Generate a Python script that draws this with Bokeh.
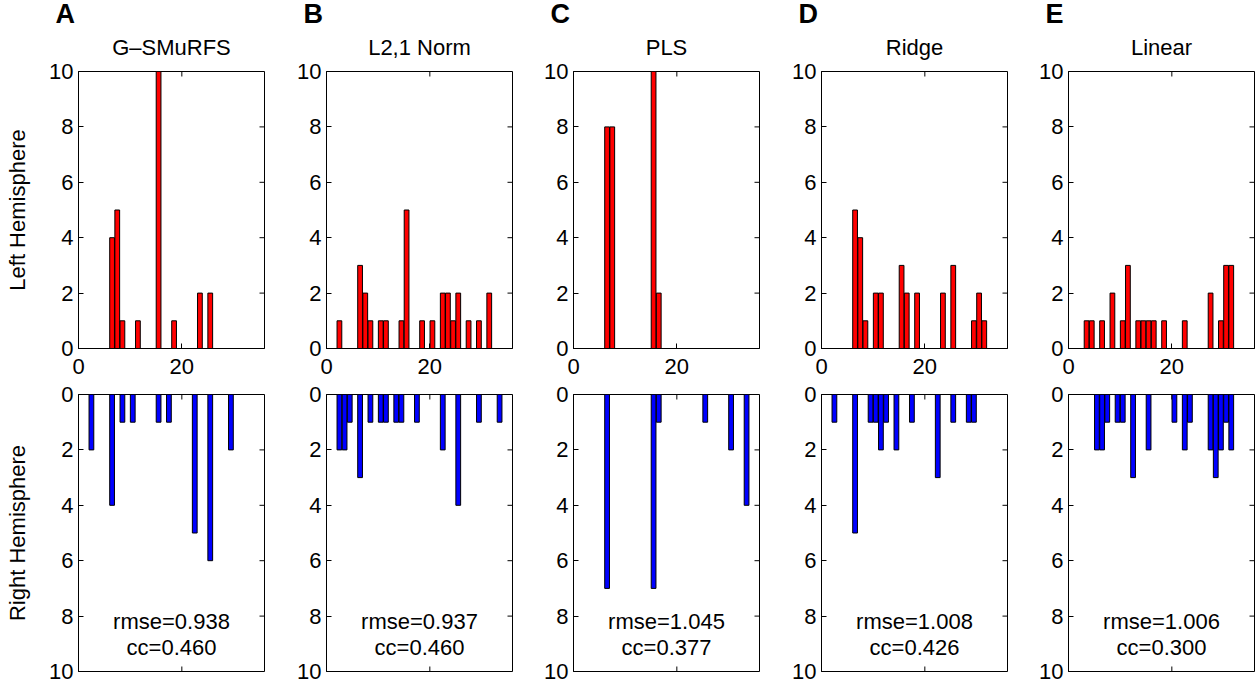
from bokeh.plotting import figure
from bokeh.models import Range1d, FixedTicker, Title
from bokeh.layouts import column, row
from bokeh.core.properties import value
from bokeh.embed import file_html
from bokeh.resources import INLINE

methods = ["G\u2013SMuRFS", "L2,1 Norm", "PLS", "Ridge", "Linear"]
letters = ["A", "B", "C", "D", "E"]
rmse = ["0.938", "0.937", "1.045", "1.008", "1.006"]
cc = ["0.460", "0.460", "0.377", "0.426", "0.300"]

# region index (1-based) and counts, left hemisphere
left_idx_A = [7, 8, 9, 12, 16, 19, 24, 26]
left_cnt_A = [4, 5, 1, 1, 10, 1, 2, 2]
left_idx_B = [3, 7, 8, 9, 11, 12, 15, 16, 19, 21, 23, 24, 25, 26, 28, 30, 32]
left_cnt_B = [1, 3, 2, 1, 1, 1, 1, 5, 1, 1, 2, 2, 1, 2, 1, 1, 2]
left_idx_C = [7, 8, 16, 17]
left_cnt_C = [8, 8, 10, 2]
left_idx_D = [7, 8, 9, 11, 12, 16, 17, 19, 24, 26, 30, 31, 32]
left_cnt_D = [5, 4, 1, 2, 2, 3, 2, 2, 2, 3, 1, 2, 1]
left_idx_E = [4, 5, 7, 9, 11, 12, 14, 15, 16, 17, 19, 23, 28, 30, 31, 32]
left_cnt_E = [1, 1, 1, 2, 1, 3, 1, 1, 1, 1, 1, 1, 2, 1, 3, 3]

# right hemisphere
right_idx_A = [3, 7, 9, 11, 16, 18, 23, 26, 30]
right_cnt_A = [2, 4, 1, 1, 1, 1, 5, 6, 2]
right_idx_B = [3, 4, 5, 7, 9, 11, 12, 14, 15, 18, 23, 26, 30, 34]
right_cnt_B = [2, 2, 1, 3, 1, 1, 1, 1, 1, 1, 2, 4, 1, 1]
right_idx_C = [7, 16, 17, 26, 31, 34]
right_cnt_C = [7, 7, 1, 1, 2, 4]
right_idx_D = [3, 7, 10, 11, 12, 13, 15, 18, 23, 26, 29, 30]
right_cnt_D = [1, 5, 1, 1, 2, 1, 2, 1, 3, 1, 1, 1]
right_idx_E = [6, 7, 8, 10, 11, 13, 16, 21, 23, 24, 28, 29, 30, 31, 32]
right_cnt_E = [2, 2, 1, 1, 1, 3, 2, 1, 2, 1, 2, 3, 2, 1, 2]

x_ticks = [0, 20]
y_ticks = [0, 2, 4, 6, 8, 10]
x_max = 36
y_max = 10

left_data = [(left_idx_A, left_cnt_A), (left_idx_B, left_cnt_B), (left_idx_C, left_cnt_C),
             (left_idx_D, left_cnt_D), (left_idx_E, left_cnt_E)]
right_data = [(right_idx_A, right_cnt_A), (right_idx_B, right_cnt_B), (right_idx_C, right_cnt_C),
              (right_idx_D, right_cnt_D), (right_idx_E, right_cnt_E)]

FONT = "Liberation Sans"
FS = "22px"
borders_left = [78, 60, 59, 60, 59]
TICK = 5
FRAME_W = 186
FRAME_H = 277


def style_axis(ax, standoff=5):
    ax.major_tick_in = TICK
    ax.major_tick_out = 0
    ax.minor_tick_in = 0
    ax.minor_tick_out = 0
    ax.axis_line_color = "black"
    ax.major_tick_line_color = "black"
    ax.major_label_text_font = FONT
    ax.major_label_text_color = "black"
    ax.major_label_text_font_size = FS
    ax.major_label_standoff = standoff


def ray_ticks(p, xs, ys, angle):
    p.ray(x=xs, y=ys, length=TICK, length_units="screen", angle=angle, angle_units="deg",
          line_color="black", line_width=1)


def make_fig(i, top):
    yr = Range1d(0, y_max) if top else Range1d(y_max, 0)
    p = figure(frame_width=FRAME_W, frame_height=FRAME_H, x_range=Range1d(0, x_max), y_range=yr,
               output_backend="svg", toolbar_location=None,
               min_border_left=borders_left[i], min_border_right=2,
               min_border_top=71 if top else 12, min_border_bottom=34 if top else 13,
               background_fill_color="white", border_fill_color="white")
    p.grid.visible = False
    p.outline_line_color = "black"
    p.outline_line_alpha = 1.0
    yax = p.yaxis[0]
    yax.ticker = FixedTicker(ticks=y_ticks)
    style_axis(yax)
    n_x = len(x_ticks)
    n_y = len(y_ticks)
    # right-edge inward ticks
    ray_ticks(p, [x_max] * n_y, y_ticks, 180)
    if top:
        xax = p.xaxis[0]
        xax.ticker = FixedTicker(ticks=x_ticks)
        style_axis(xax, standoff=10)
        ray_ticks(p, x_ticks, [y_max] * n_x, -90)
    else:
        p.xaxis.visible = False
        ray_ticks(p, x_ticks, [0] * n_x, -90)
        ray_ticks(p, x_ticks, [y_max] * n_x, 90)

    if i == 0:
        yax.axis_label = "Left Hemisphere" if top else "Right Hemisphere"
        yax.axis_label_text_font = FONT
        yax.axis_label_text_font_size = FS
        yax.axis_label_text_font_style = "normal"
        yax.axis_label_text_color = "black"
        yax.axis_label_standoff = 16

    idx, cnt = left_data[i] if top else right_data[i]
    xs = [k - 0.5 for k in idx]
    p.vbar(x=xs, top=cnt, bottom=0, width=0.92,
           fill_color="#ff0000" if top else "#0000ff", line_color="black", line_width=1)

    if top:
        # outermost: panel letter
        p.title.text = letters[i]
        p.title.align = "left"
        p.title.offset = -23
        p.title.text_font = FONT
        p.title.text_font_size = "27px"
        p.title.text_font_style = "bold"
        p.title.text_color = "black"
        p.title.standoff = -15
        # nearest the frame: method name
        p.add_layout(Title(text=methods[i], align="center", text_font=FONT, text_font_size=FS,
                           text_font_style="normal", text_color="black", standoff=23), "above")
    else:
        p.text(x=[18], y=[8.2], text=["rmse=" + rmse[i]], text_align="center",
               text_baseline="middle", text_font=value(FONT), text_font_size=FS, text_color="black")
        p.text(x=[18], y=[9.15], text=["cc=" + cc[i]], text_align="center",
               text_baseline="middle", text_font=value(FONT), text_font_size=FS, text_color="black")
    return p


tops = [make_fig(i, True) for i in range(5)]
bots = [make_fig(i, False) for i in range(5)]
layout = column(row(*tops), row(*bots))

open("out.html", "w").write(file_html(layout, INLINE))
